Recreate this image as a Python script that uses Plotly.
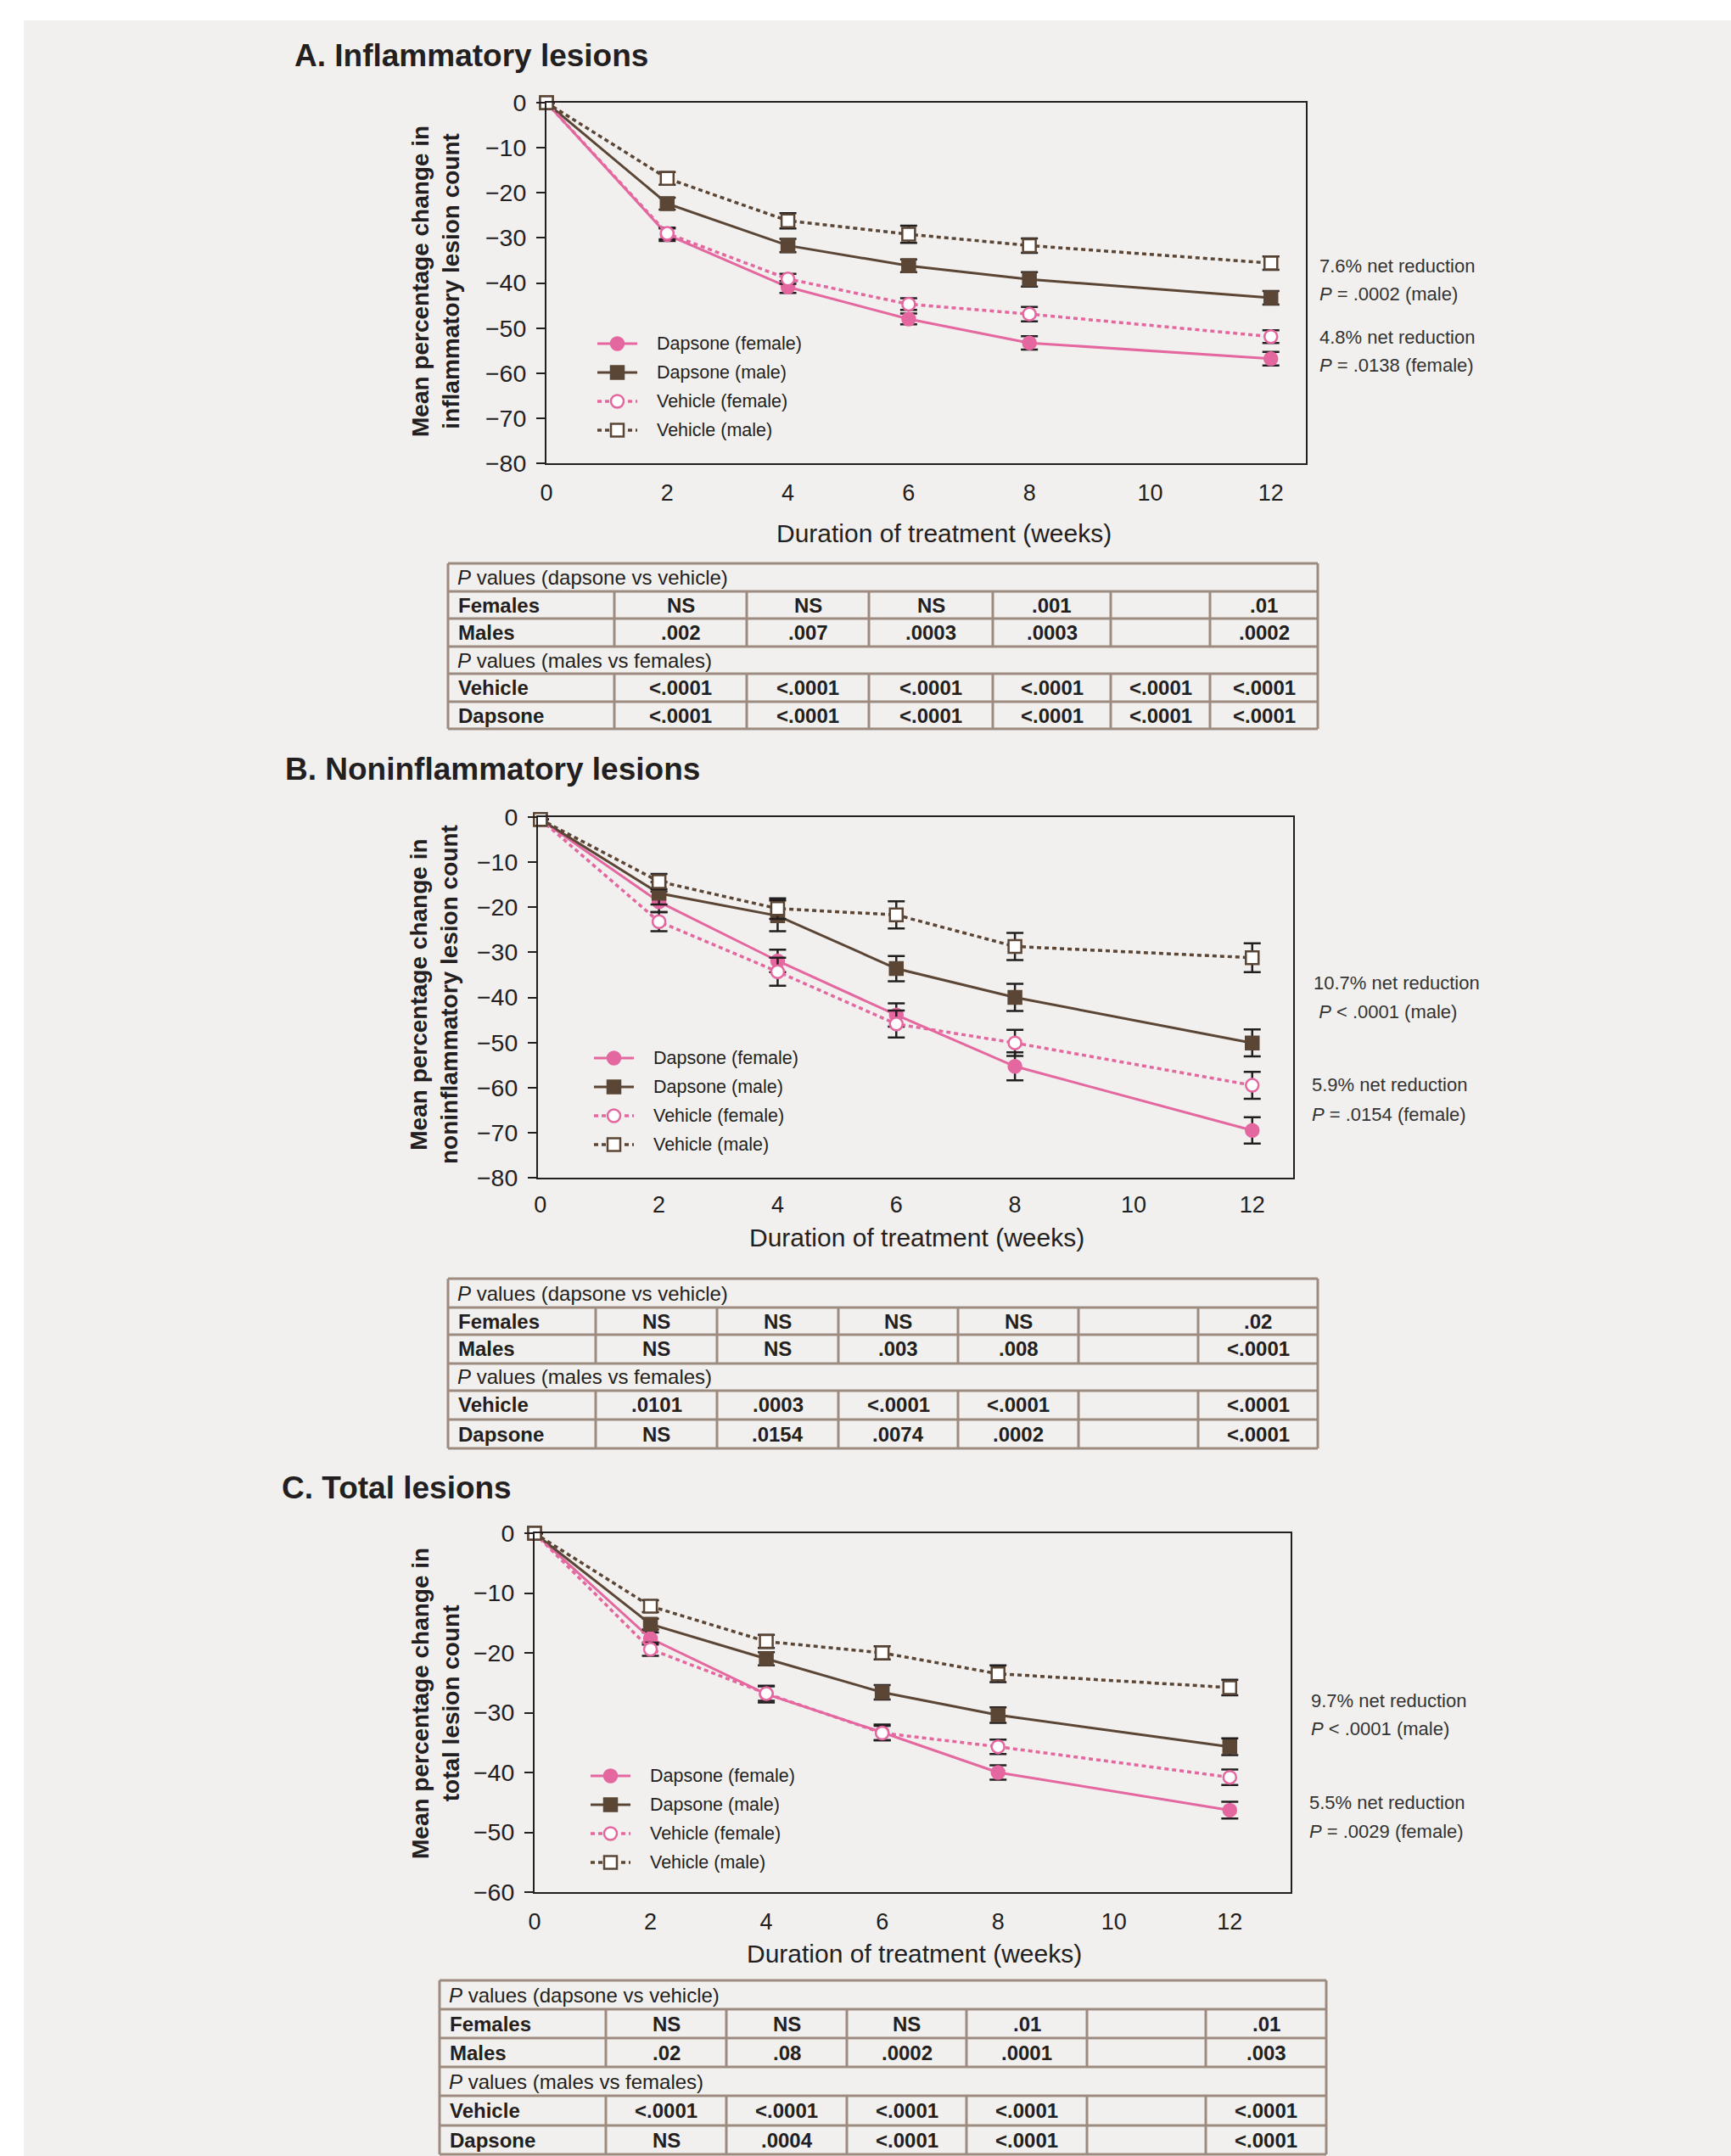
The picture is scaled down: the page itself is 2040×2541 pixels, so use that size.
import plotly.graph_objects as go

W, H = 2040, 2541

# ---------------- data ----------------
WEEKS = [0, 2, 4, 6, 8, 12]
X_TICKS = [0, 2, 4, 6, 8, 10, 12]
Y_TICKS_AB = [0, -10, -20, -30, -40, -50, -60, -70, -80]
Y_TICKS_C = [0, -10, -20, -30, -40, -50, -60]
SERIES_NAMES = ["Dapsone (female)", "Dapsone (male)", "Vehicle (female)", "Vehicle (male)"]

# A. Inflammatory lesions
A_DAP_F = [0, -29.3, -40.9, -48.0, -53.3, -56.8]
A_DAP_M = [0, -22.4, -31.7, -36.2, -39.2, -43.3]
A_VEH_F = [0, -29.0, -39.1, -44.7, -46.9, -51.9]
A_VEH_M = [0, -16.8, -26.2, -29.2, -31.7, -35.6]
A_ERR_DAP_F = [0, 1.4, 1.3, 1.2, 1.5, 1.5]
A_ERR_DAP_M = [0, 1.3, 1.5, 1.4, 1.6, 1.5]
A_ERR_VEH_F = [0, 1.3, 1.1, 1.3, 1.6, 1.4]
A_ERR_VEH_M = [0, 1.4, 1.7, 1.9, 1.6, 1.5]

# B. Noninflammatory lesions
B_DAP_F = [-0.5, -18.8, -31.9, -43.9, -55.3, -69.5]
B_DAP_M = [-0.5, -16.9, -21.9, -33.6, -40.0, -50.1]
B_VEH_F = [-0.5, -23.2, -34.3, -45.9, -50.1, -59.5]
B_VEH_M = [-0.5, -14.3, -20.3, -21.7, -28.7, -31.2]
B_ERR_DAP_F = [0, 2.3, 2.5, 2.6, 3.1, 2.9]
B_ERR_DAP_M = [0, 2.5, 3.4, 2.8, 3.0, 3.0]
B_ERR_VEH_F = [0, 2.1, 3.1, 3.0, 2.9, 3.0]
B_ERR_VEH_M = [0, 1.7, 2.3, 3.0, 3.0, 3.2]

# C. Total lesions
C_DAP_F = [0, -17.6, -26.9, -33.3, -40.0, -46.3]
C_DAP_M = [0, -15.2, -21.0, -26.6, -30.4, -35.7]
C_VEH_F = [0, -19.4, -26.8, -33.4, -35.7, -40.8]
C_VEH_M = [0, -12.2, -18.1, -20.0, -23.5, -25.8]
C_ERR_DAP_F = [0, 1.0, 1.4, 1.3, 1.2, 1.4]
C_ERR_DAP_M = [0, 0.9, 1.1, 1.2, 1.3, 1.4]
C_ERR_VEH_F = [0, 1.1, 1.2, 1.2, 1.2, 1.3]
C_ERR_VEH_M = [0, 1.0, 1.1, 1.1, 1.4, 1.3]

PANEL_TITLES = ["A. Inflammatory lesions", "B. Noninflammatory lesions", "C. Total lesions"]
Y_TITLES = ["Mean percentage change in<br>inflammatory lesion count",
            "Mean percentage change in<br>noninflammatory lesion count",
            "Mean percentage change in<br>total lesion count"]
X_TITLE = "Duration of treatment (weeks)"
NOTES_A = ["7.6% net reduction", "<i>P</i> = .0002 (male)", "4.8% net reduction", "<i>P</i> = .0138 (female)"]
NOTES_B = ["10.7% net reduction", " <i>P</i> &lt; .0001 (male)", "5.9% net reduction", "<i>P</i> = .0154 (female)"]
NOTES_C = ["9.7% net reduction", "<i>P</i> &lt; .0001 (male)", "5.5% net reduction", "<i>P</i> = .0029 (female)"]

TABLE_HEAD_1 = "<i>P</i> values (dapsone vs vehicle)"
TABLE_HEAD_2 = "<i>P</i> values (males vs females)"
TABLE_ROWS_1 = ["Females", "Males"]
TABLE_ROWS_2 = ["Vehicle", "Dapsone"]

TA_FEMALES = ["NS", "NS", "NS", ".001", "", ".01"]
TA_MALES = [".002", ".007", ".0003", ".0003", "", ".0002"]
TA_VEHICLE = ["<.0001", "<.0001", "<.0001", "<.0001", "<.0001", "<.0001"]
TA_DAPSONE = ["<.0001", "<.0001", "<.0001", "<.0001", "<.0001", "<.0001"]

TB_FEMALES = ["NS", "NS", "NS", "NS", "", ".02"]
TB_MALES = ["NS", "NS", ".003", ".008", "", "<.0001"]
TB_VEHICLE = [".0101", ".0003", "<.0001", "<.0001", "", "<.0001"]
TB_DAPSONE = ["NS", ".0154", ".0074", ".0002", "", "<.0001"]

TC_FEMALES = ["NS", "NS", "NS", ".01", "", ".01"]
TC_MALES = [".02", ".08", ".0002", ".0001", "", ".003"]
TC_VEHICLE = ["<.0001", "<.0001", "<.0001", "<.0001", "", "<.0001"]
TC_DAPSONE = ["NS", ".0004", "<.0001", "<.0001", "", "<.0001"]

# ---------------- styles / geometry ----------------
PINK = "#e4689f"
BROWN = "#5b4535"
DARK = "#231f20"
TXT = "#333333"
BG = "#f1f0ee"
TBORDER = "#9e8b80"
FONT = "Liberation Sans, Arial, Helvetica, sans-serif"
MSIZE = 15

STYLES = [
    dict(color=PINK, dash="solid", width=3, symbol="circle", fill=PINK),
    dict(color=BROWN, dash="solid", width=3, symbol="square", fill=BROWN),
    dict(color=PINK, dash="5px,4px", width=3.5, symbol="circle", fill="white"),
    dict(color=BROWN, dash="5px,4px", width=3.5, symbol="square", fill="white"),
]

panels = [
    dict(series=[A_DAP_F, A_DAP_M, A_VEH_F, A_VEH_M],
         errs=[A_ERR_DAP_F, A_ERR_DAP_M, A_ERR_VEH_F, A_ERR_VEH_M],
         box=(644, 1539, 121, 546), xr=[0, 12.58], yr=[-80, 0], yticks=Y_TICKS_AB,
         title_xy=(345, 65), ytitle_xy=(514, 332), xtitle_xy=(1112, 628), xstand=10,
         legend_xy=(704, 405), notes=NOTES_A,
         notes_xy=[(1553, 313), (1553, 347), (1553, 397), (1553, 430)],
         table=dict(xe=[528, 724, 880, 1024, 1170, 1309, 1426, 1553],
                    ye=[664, 697, 729, 762, 794, 827, 859],
                    rows=[TA_FEMALES, TA_MALES, TA_VEHICLE, TA_DAPSONE])),
    dict(series=[B_DAP_F, B_DAP_M, B_VEH_F, B_VEH_M],
         errs=[B_ERR_DAP_F, B_ERR_DAP_M, B_ERR_VEH_F, B_ERR_VEH_M],
         box=(634, 1524, 963, 1388), xr=[-0.04, 12.69], yr=[-80, 0], yticks=Y_TICKS_AB,
         title_xy=(334, 906), ytitle_xy=(511, 1172), xtitle_xy=(1080, 1458), xstand=7,
         legend_xy=(700, 1247), notes=NOTES_B,
         notes_xy=[(1546, 1158), (1546, 1192), (1544, 1278), (1544, 1313)],
         table=dict(xe=[528, 702, 845, 988, 1129, 1271, 1412, 1553],
                    ye=[1507, 1541, 1573, 1607, 1639, 1673, 1707],
                    rows=[TB_FEMALES, TB_MALES, TB_VEHICLE, TB_DAPSONE])),
    dict(series=[C_DAP_F, C_DAP_M, C_VEH_F, C_VEH_M],
         errs=[C_ERR_DAP_F, C_ERR_DAP_M, C_ERR_VEH_F, C_ERR_VEH_M],
         box=(630, 1521, 1807, 2230), xr=[0, 13.05], yr=[-60, 0], yticks=Y_TICKS_C,
         title_xy=(330, 1753), ytitle_xy=(513, 2008), xtitle_xy=(1077, 2302), xstand=10,
         legend_xy=(696, 2093), notes=NOTES_C,
         notes_xy=[(1543, 2004), (1543, 2038), (1541, 2124), (1541, 2158)],
         table=dict(xe=[518, 714, 856, 998, 1139, 1281, 1421, 1563],
                    ye=[2334, 2368, 2402, 2436, 2470, 2505, 2539],
                    rows=[TC_FEMALES, TC_MALES, TC_VEHICLE, TC_DAPSONE])),
]

LEG_LINE = 47      # legend sample line length (px)
LEG_TEXT = 68      # offset from line start to label
LEG_STEP = 34      # row spacing
TFONT = 24         # table font size


def PX(x):
    return x / W


def PY(y):
    return 1 - y / H


fig = go.Figure()
shapes = [dict(type="rect", xref="paper", yref="paper", x0=PX(28), x1=1, y0=0, y1=PY(24),
               fillcolor=BG, line=dict(width=0), layer="below")]
annotations = []


def txt(x, y, text, size, xanchor="left", bold=False, color=DARK, angle=0):
    if bold:
        text = "<b>" + text + "</b>"
    annotations.append(dict(x=PX(x), y=PY(y), xref="paper", yref="paper", text=text,
                            showarrow=False, xanchor=xanchor, yanchor="middle",
                            textangle=angle, font=dict(size=size, color=color, family=FONT)))


for i, p in enumerate(panels):
    n = "" if i == 0 else str(i + 1)
    xa, ya = "x" + n, "y" + n
    for j, (vals, errs) in enumerate(zip(p["series"], p["errs"])):
        st = STYLES[j]
        fig.add_trace(go.Scatter(
            x=WEEKS, y=vals, xaxis=xa, yaxis=ya, name=SERIES_NAMES[j],
            mode="lines+markers", cliponaxis=False, showlegend=False,
            line=dict(color=st["color"], width=st["width"], dash=st["dash"]),
            marker=dict(symbol=st["symbol"], size=MSIZE, color=st["fill"],
                        line=dict(color=st["color"], width=2.5)),
            error_y=dict(type="data", array=errs, visible=True, color=DARK,
                         thickness=2.5, width=10)))
    l, r, t, b = p["box"]
    fig.layout["xaxis" + n] = dict(
        domain=[PX(l), PX(r)], range=p["xr"], anchor=ya, showline=True, linecolor=DARK,
        linewidth=2, mirror=True, ticks="", showgrid=False, zeroline=False, automargin=False,
        tickvals=X_TICKS, tickfont=dict(size=27, color=DARK, family=FONT),
        ticklabelstandoff=p["xstand"])
    fig.layout["yaxis" + n] = dict(
        domain=[PY(b), PY(t)], range=p["yr"], anchor=xa, showline=True, linecolor=DARK,
        linewidth=2, mirror=True, ticks="outside", ticklen=10, tickwidth=2, tickcolor=DARK,
        showgrid=False, zeroline=False, tickvals=p["yticks"], automargin=False,
        ticklabelstandoff=6, tickfont=dict(size=28.5, color=DARK, family=FONT))

    # legend (drawn as decoration)
    lx, ly = p["legend_xy"]
    for j, name in enumerate(SERIES_NAMES):
        st = STYLES[j]
        yy = ly + j * LEG_STEP
        shapes.append(dict(type="line", xref="paper", yref="paper", x0=PX(lx), x1=PX(lx + LEG_LINE),
                           y0=PY(yy), y1=PY(yy),
                           line=dict(color=st["color"], width=st["width"], dash=st["dash"])))
        cx = lx + LEG_LINE / 2
        half = MSIZE / 2
        shapes.append(dict(type="circle" if st["symbol"] == "circle" else "rect",
                           xref="paper", yref="paper",
                           x0=PX(cx - half), x1=PX(cx + half), y0=PY(yy + half), y1=PY(yy - half),
                           fillcolor=st["fill"], line=dict(color=st["color"], width=2.5)))
        txt(lx + LEG_TEXT, yy, name, 21.5)

    txt(*p["title_xy"], PANEL_TITLES[i], 37, bold=True)
    txt(*p["ytitle_xy"], "<b>" + Y_TITLES[i].replace("<br>", "</b><br><b>") + "</b>", 28,
        xanchor="center", angle=-90)
    txt(*p["xtitle_xy"], X_TITLE, 30, xanchor="center")
    for (nx, ny), note in zip(p["notes_xy"], p["notes"]):
        txt(nx, ny, note, 22, color=TXT)

    # table
    tb = p["table"]
    xe, ye = tb["xe"], tb["ye"]
    for yy in ye:
        shapes.append(dict(type="line", xref="paper", yref="paper", x0=PX(xe[0]), x1=PX(xe[-1]),
                           y0=PY(yy), y1=PY(yy), line=dict(color=TBORDER, width=3)))
    for xx in (xe[0], xe[-1]):
        shapes.append(dict(type="line", xref="paper", yref="paper", x0=PX(xx), x1=PX(xx),
                           y0=PY(ye[0]), y1=PY(ye[-1]), line=dict(color=TBORDER, width=3)))
    for (ra, rb) in ((ye[1], ye[3]), (ye[4], ye[6])):
        for xx in xe[1:-1]:
            shapes.append(dict(type="line", xref="paper", yref="paper", x0=PX(xx), x1=PX(xx),
                               y0=PY(ra), y1=PY(rb), line=dict(color=TBORDER, width=3)))
    txt(xe[0] + 9, (ye[0] + ye[1]) / 2, TABLE_HEAD_1, TFONT, color=DARK)
    txt(xe[0] + 9, (ye[3] + ye[4]) / 2, TABLE_HEAD_2, TFONT, color=DARK)
    row_specs = [(1, TABLE_ROWS_1[0], tb["rows"][0]), (2, TABLE_ROWS_1[1], tb["rows"][1]),
                 (4, TABLE_ROWS_2[0], tb["rows"][2]), (5, TABLE_ROWS_2[1], tb["rows"][3])]
    for ri, label, vals in row_specs:
        yc = (ye[ri] + ye[ri + 1]) / 2
        txt(xe[0] + 10, yc, label, TFONT, bold=True)
        for k, v in enumerate(vals):
            if v:
                txt((xe[k + 1] + xe[k + 2]) / 2, yc, v.replace("<", "&lt;"), TFONT,
                    xanchor="center", bold=True)

fig.update_layout(width=W, height=H, autosize=False,
                  margin=dict(l=0, r=0, t=0, b=0, pad=0, autoexpand=False),
                  paper_bgcolor="white", plot_bgcolor="rgba(0,0,0,0)", showlegend=False,
                  font=dict(family=FONT, color=DARK), shapes=shapes, annotations=annotations)

fig.write_html("out.html", config={"displayModeBar": False},
               post_script="document.body.style.margin='0px';document.body.style.padding='0px';")
